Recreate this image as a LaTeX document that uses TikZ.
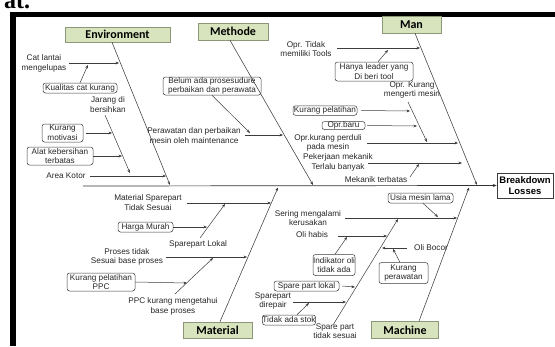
\documentclass[tikz,border=0pt]{standalone}
\usepackage{fontspec}
\setmainfont{Liberation Sans}
\newfontfamily\carlito{Carlito}
\newfontfamily\serifb{Liberation Serif}
\usetikzlibrary{arrows.meta}
\definecolor{catfill}{RGB}{215,228,189}
\definecolor{catline}{RGB}{140,150,120}
\definecolor{ink}{RGB}{60,60,60}
\begin{document}
\begin{tikzpicture}[x=1pt,y=-1pt,
  lbl/.style={font=\fontsize{8.2}{9.6}\selectfont, text=black!85, align=center, inner sep=0pt},
  rbox/.style={lbl, draw=ink, line width=0.5pt, rounded corners=2.5pt},
  catbox/.style={draw=catline, fill=catfill, line width=0.6pt, font=\carlito\bfseries\fontsize{12}{12}\selectfont, inner sep=0pt},
  conn/.style={draw=ink, line width=0.5pt, -{Stealth[length=3.5pt,width=2.8pt]}},
  bone/.style={draw=ink, line width=0.55pt, -{Stealth[length=3.5pt,width=2.8pt]}},
  spine/.style={draw=black!80, line width=0.7pt, -{Stealth[length=4pt,width=3.2pt]}}
]
\useasboundingbox (0,0) rectangle (555,346);
% page frame fragments
\node[font=\serifb\bfseries\fontsize{24}{24}\selectfont, anchor=base west, inner sep=0pt] (hdr) at (4,8) {at.};
\fill[black] (10,12) rectangle (555,17);
\fill[black] (10,12) rectangle (16,346);

% effect
\node[draw=ink, line width=0.6pt, minimum width=56pt, minimum height=25pt, inner sep=0pt, align=center, font=\bfseries\fontsize{9.5}{11}\selectfont] (bd) at (525,185.5) {Breakdown\\Losses};
\coordinate (spA) at (83,186);
\draw[spine] (spA) -- (bd.west);

% ---------- Environment
\node[catbox, minimum width=105pt, minimum height=15pt] (env) at (117.5,34.5) {Environment};
\coordinate (envB) at (170,185);
\draw[bone] ([xshift=-5.5pt]env.south) -- (envB);
\node[lbl] (catl) at (44,63.5) {Cat lantai\\mengelupas};
\coordinate (catA) at (69,63); \coordinate (catT) at (119,63);
\draw[conn] (catA) -- (catT);
\node[rbox, minimum width=74pt, minimum height=10pt] (kual) at (80,88) {Kualitas cat kurang};
\coordinate (kualT) at (88,65);
\draw[conn] (kual.north) -- (kualT);
\node[lbl] (jarang) at (108,104.5) {Jarang di\\bersihkan};
\coordinate (jarA) at (105,115); \coordinate (jarT) at (130,173);
\draw[conn] (jarA) -- (jarT);
\node[rbox, minimum width=41pt, minimum height=18pt] (motiv) at (62.5,133) {Kurang\\motivasi};
\coordinate (motivT) at (112,133);
\draw[conn] ([xshift=3pt]motiv.east) -- (motivT);
\node[rbox, minimum width=66pt, minimum height=18pt] (alat) at (60,156) {Alat kebersihan\\terbatas};
\coordinate (alatT) at (122,156);
\draw[conn] (alat.east) -- (alatT);
\node[lbl] (area) at (66,176) {Area Kotor};
\coordinate (areaT) at (166,176);
\draw[conn] ([xshift=4pt]area.east) -- (areaT);

% ---------- Methode
\node[catbox, minimum width=70pt, minimum height=17pt] (meth) at (233,31.5) {Methode};
\coordinate (methB) at (313,185);
\draw[bone] ([xshift=-3pt]meth.south) -- (methB);
\node[rbox, minimum width=98pt, minimum height=18pt] (belum) at (212,86) {Belum ada prosesudure\\perbaikan dan perawata};
\coordinate (belumT) at (250,133);
\draw[conn] (belum.south) -- (belumT);
\node[lbl] (rawat) at (194,135.5) {Perawatan dan perbaikan\\mesin oleh maintenance};
\coordinate (rawatA) at (245,135); \coordinate (rawatT) at (283,135);
\draw[conn] (rawatA) -- (rawatT);

% ---------- Man
\node[catbox, minimum width=59pt, minimum height=17pt] (man) at (411.5,24.5) {Man};
\coordinate (manB) at (477,185);
\draw[bone] ([xshift=3.5pt]man.south) -- (manB);
\node[lbl] (tools) at (306,49) {Opr. Tidak\\memiliki Tools};
\coordinate (toolsA) at (337,48); \coordinate (toolsT) at (420,48);
\draw[conn] (toolsA) -- (toolsT);
\node[rbox, minimum width=78pt, minimum height=19pt] (leader) at (374,71.5) {Hanya leader yang\\Di beri tool};
\coordinate (leaderT) at (388,50);
\draw[conn] ([xshift=4pt]leader.north) -- (leaderT);
\node[lbl] (ngerti) at (412,90) {Opr. Kurang\\mengerti mesin};
\coordinate (ngA) at (408,102); \coordinate (ngT) at (427,142);
\draw[conn] (ngA) -- (ngT);
\node[rbox, minimum width=64pt, minimum height=9.5pt] (latih) at (325,110.5) {Kurang pelatihan};
\coordinate (latihT) at (410,111);
\draw[conn] ([xshift=4pt]latih.east) -- (latihT);
\node[rbox, minimum width=43pt, minimum height=8pt] (baru) at (343.5,125.5) {Opr.baru};
\coordinate (baruT) at (417,126);
\draw[conn] ([xshift=2pt]baru.east) -- (baruT);
\node[lbl] (perduli) at (328,143) {Opr.kurang perduli\\pada mesin};
\coordinate (perA) at (367,143); \coordinate (perT) at (458,143);
\draw[conn] (perA) -- (perT);
\node[lbl] (kerja) at (338,162.5) {Pekerjaan mekanik\\Terlalu banyak};
\coordinate (kerA) at (368,163); \coordinate (kerT) at (462,163);
\draw[conn] (kerA) -- (kerT);
\node[lbl] (mekanik) at (376,180) {Mekanik terbatas};
\coordinate (mekA) at (410,177); \coordinate (mekT) at (419,164);
\draw[conn] (mekA) -- (mekT);

% ---------- Material
\node[catbox, minimum width=69pt, minimum height=16pt] (mat) at (217.5,330) {Material};
\coordinate (matB) at (278,187.5);
\draw[bone] ([xshift=2.5pt]mat.north) -- (matB);
\node[lbl] (msp) at (148,202.5) {Material Sparepart\\Tidak Sesuai};
\coordinate (mspA) at (187,203); \coordinate (mspT) at (271,203);
\draw[conn] (mspA) -- (mspT);
\node[rbox, minimum width=55pt, minimum height=10pt] (harga) at (145.5,227) {Harga Murah};
\coordinate (hargaT) at (207,227);
\draw[conn] (harga.east) -- (hargaT);
\node[lbl] (lokal) at (198,244) {Sparepart Lokal};
\coordinate (lokA) at (200,238); \coordinate (lokT) at (225,204);
\draw[conn] (lokA) -- (lokT);
\node[lbl] (proses) at (127,257) {Proses tidak\\Sesuai base proses};
\coordinate (proA) at (166,257); \coordinate (proT) at (247,257);
\draw[conn] (proA) -- (proT);
\node[rbox, minimum width=68pt, minimum height=18pt] (ppcl) at (101,282) {Kurang pelatihan\\PPC};
\coordinate (ppclT) at (187,283);
\draw[conn] (ppcl.east) -- (ppclT);
\node[lbl] (ppc) at (173,306.5) {PPC kurang mengetahui\\base proses};
\coordinate (ppcA) at (175,294); \coordinate (ppcT) at (213,258);
\draw[conn] (ppcA) -- (ppcT);

% ---------- Machine
\node[catbox, minimum width=67pt, minimum height=17pt] (mach) at (405,330) {Machine};
\coordinate (machB) at (469,187.5);
\draw[bone] ([xshift=14pt]mach.north) -- (machB);
\node[rbox, minimum width=65pt, minimum height=10pt] (usia) at (420.5,198) {Usia mesin lama};
\coordinate (usiaT) at (438,217);
\draw[conn] ([xshift=2.5pt]usia.south) -- (usiaT);
\node[lbl] (sering) at (308,218) {Sering mengalami\\kerusakan};
\coordinate (serA) at (345,218); \coordinate (serT) at (457,218);
\draw[conn] (serA) -- (serT);
\node[lbl] (spts) at (335,331) {Spare part\\tidak sesuai};
\coordinate (sptsA) at (333,325); \coordinate (sptsT) at (398,219);
\draw[conn] (sptsA) -- (sptsT);
\node[lbl] (olih) at (312,235) {Oli habis};
\coordinate (olihA) at (338,236); \coordinate (olihT) at (387,236);
\draw[conn] (olihA) -- (olihT);
\node[rbox, minimum width=42pt, minimum height=21pt] (indik) at (334,265) {Indikator oli\\tidak ada};
\coordinate (indikT) at (347,237);
\draw[conn] ([xshift=1pt]indik.north) -- (indikT);
\node[rbox, minimum width=65pt, minimum height=10pt] (splok) at (306.5,286) {Spare part lokal};
\coordinate (splokT) at (355,287);
\draw[conn] ([xshift=3pt]splok.east) -- (splokT);
\node[lbl] (direp) at (273,301) {Sparepart\\direpair};
\coordinate (direpA) at (293,302); \coordinate (direpT) at (346,302);
\draw[conn] (direpA) -- (direpT);
\node[rbox, minimum width=49pt, minimum height=10pt] (stok) at (289,320) {Tidak ada stok};
\coordinate (stokT) at (309,303);
\draw[conn] ([xshift=8pt]stok.north) -- (stokT);
\node[lbl] (bocor) at (431,248) {Oli Bocor};
\coordinate (bocA) at (407,248); \coordinate (bocT) at (382,248);
\draw[conn] (bocA) -- (bocT);
\node[rbox, minimum width=49pt, minimum height=21pt] (krw) at (403.5,273) {Kurang\\perawatan};
\coordinate (krwT) at (393,249);
\draw[conn] ([xshift=-3.5pt]krw.north) -- (krwT);
\end{tikzpicture}
\end{document}
